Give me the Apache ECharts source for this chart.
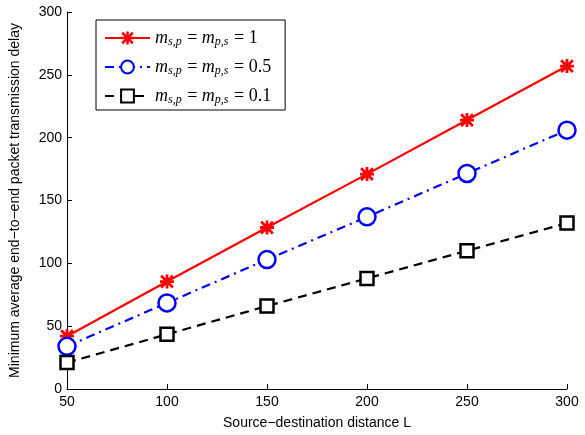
<!DOCTYPE html>
<html>
<head>
<meta charset="utf-8">
<script src="https://cdn.jsdelivr.net/npm/echarts@6/dist/echarts.min.js"></script>
<style>
  html, body { margin: 0; padding: 0; background: #fff; }
  #chart { width: 585px; height: 435px; }
</style>
</head>
<body>
<div id="chart"></div>
<script>
const distances = [50, 100, 150, 200, 250, 300]
const delayM1 = [42, 85.5, 128.5, 171, 214, 257]
const delayM05 = [34, 68.5, 103, 137, 171.5, 206]
const delayM01 = [21, 43.5, 66, 88, 110, 132]
const legendValues = ['1', '0.5', '0.1']
const seriesNames = ['m=1', 'm=0.5', 'm=0.1']

// asterisk marker built from four bars, same winding so overlaps stay filled
const asterisk = 'path://M0 4L10 4L10 6L0 6Z' +
    'M4 0L6 0L6 10L4 10Z' +
    'M1.5 0.1L9.9 8.5L8.5 9.9L0.1 1.5Z' +
    'M8.5 0.1L9.9 1.5L1.5 9.9L0.1 8.5Z'

const pairs = (ys) => distances.map((x, i) => [x, ys[i]])

const chart = echarts.init(document.getElementById('chart'))

const tickFont = { color: '#000', fontFamily: 'Liberation Sans, Arial, sans-serif', fontSize: 14 }

chart.setOption({
    animation: false,
    grid: { left: 67, right: 18, top: 12, bottom: 45 },
    legend: {
        orient: 'vertical',
        left: 96,
        top: 20,
        padding: [5, 14, 4, 8],
        itemWidth: 45,
        itemHeight: 16,
        itemGap: 6,
        backgroundColor: '#fff',
        borderColor: '#000',
        borderWidth: 1,
        data: seriesNames,
        formatter: (name) => {
            const v = legendValues[seriesNames.indexOf(name)]
            return '{i|m}{s|s,p}{r| = }{i|m}{s|p,s}{r| = ' + v + '}'
        },
        textStyle: {
            color: '#000',
            rich: {
                i: { fontFamily: 'Liberation Serif', fontStyle: 'italic', fontSize: 18, lineHeight: 20 },
                s: { fontFamily: 'Liberation Serif', fontStyle: 'italic', fontSize: 12, lineHeight: 20, verticalAlign: 'bottom', padding: [11, 1, 0, 0] },
                r: { fontFamily: 'Liberation Serif', fontSize: 18, lineHeight: 20 },
            },
        },
    },
    xAxis: {
        type: 'value',
        min: 50,
        max: 300,
        interval: 50,
        name: 'Source\u2212destination distance L',
        nameLocation: 'middle',
        nameGap: 27,
        nameTextStyle: { ...tickFont, fontSize: 14 },
        axisLine: { lineStyle: { color: '#000', width: 1 } },
        axisTick: { inside: true, length: 5, lineStyle: { color: '#000' } },
        axisLabel: { ...tickFont, margin: 6 },
        splitLine: { show: false },
    },
    yAxis: {
        type: 'value',
        min: 0,
        max: 300,
        interval: 50,
        name: 'Minimum average end\u2212to\u2212end packet transmission delay',
        nameLocation: 'middle',
        nameGap: 45,
        nameTextStyle: { ...tickFont, fontSize: 14 },
        axisLine: { show: true, lineStyle: { color: '#000', width: 1 } },
        axisTick: { show: true, inside: true, length: 5, lineStyle: { color: '#000' } },
        axisLabel: { ...tickFont, margin: 5 },
        splitLine: { show: false },
    },
    series: [
        {
            name: seriesNames[0],
            type: 'line',
            data: pairs(delayM1),
            symbol: asterisk,
            symbolSize: 14,
            itemStyle: { color: '#ff0000' },
            lineStyle: { color: '#ff0000', width: 2.2, type: 'solid' },
        },
        {
            name: seriesNames[1],
            type: 'line',
            data: pairs(delayM05),
            symbol: 'circle',
            symbolSize: 17,
            itemStyle: { color: '#fff', borderColor: '#0000ff', borderWidth: 2.5 },
            lineStyle: { color: '#0000ff', width: 2.2, type: [9, 5, 2, 5] },
        },
        {
            name: seriesNames[2],
            type: 'line',
            data: pairs(delayM01),
            symbol: 'rect',
            symbolSize: 13,
            itemStyle: { color: '#fff', borderColor: '#000', borderWidth: 2.5 },
            lineStyle: { color: '#000', width: 2.2, type: [9, 6] },
        },
    ],
})
</script>
</body>
</html>
